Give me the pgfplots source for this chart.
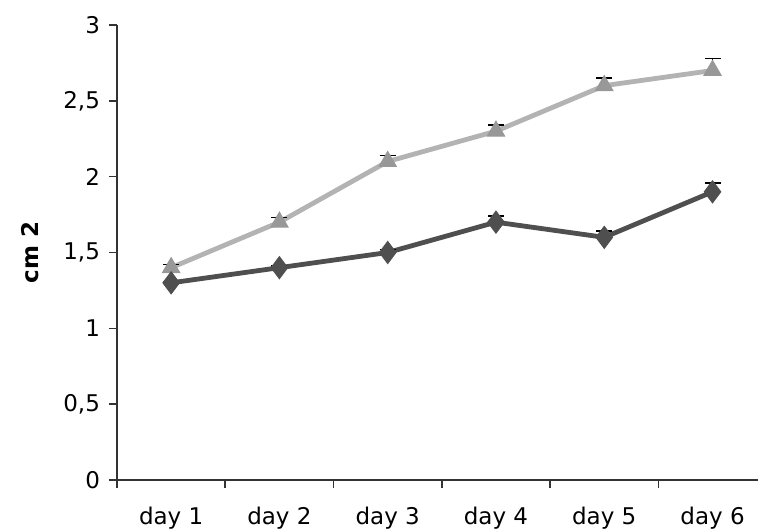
\documentclass[border=0pt]{standalone}
\usepackage{fontspec}
\setmainfont{DejaVu Sans}
\usepackage{pgfplots}
\pgfplotsset{compat=1.18}
\definecolor{lightser}{HTML}{B3B3B3}
\definecolor{darkser}{HTML}{4F4F4F}
\begin{document}
\begin{tikzpicture}[font=\fontsize{11.5}{13}\selectfont]
\path[use as bounding box] (-58.5pt,-25pt) rectangle (320.5pt,240pt);
\begin{axis}[
  scale only axis,
  width=320.5pt, height=227.5pt,
  at={(0,0)}, anchor=south west,
  xmin=-0.5, xmax=5.42,
  ymin=0, ymax=3,
  axis lines=left,
  axis line style={-, line width=0.8pt, black!80},
  ytick={0,0.5,...,3},
  /pgf/number format/use comma,
  /pgf/number format/assume math mode=true,
  yticklabel style={font=\fontsize{11.5}{13}\selectfont, xshift=-1pt},
  xtick={0,...,5},
  xticklabels={day 1,day 2,day 3,day 4,day 5,day 6},
  xticklabel style={font=\fontsize{11.5}{13}\selectfont, yshift=-6pt},
  minor xtick={-0.5,0.5,...,4.5},
  tick align=outside,
  major x tick style={draw=none},
  minor x tick style={black!80, line width=0.8pt},
  y tick style={black!80, line width=0.8pt},
  major tick length=4pt,
  minor tick length=4pt,
  ylabel={\bfseries cm 2},
  ylabel style={at={(axis description cs:-0.136,0.5)}, anchor=center},
  clip=false,
]
\addplot[lightser, line width=2.4pt, mark=triangle*, mark size=5pt,
  mark options={fill=lightser!85!black, draw=lightser!85!black, line width=0.5pt},
  error bars/.cd, y dir=plus, y explicit,
  error bar style={black, line width=0.8pt}, error mark options={rotate=90, mark size=4pt, line width=0.8pt, black}]
  table[x=x, y=y, y error=e] {
x y e
0 1.40 0.02
1 1.70 0.03
2 2.10 0.04
3 2.30 0.04
4 2.60 0.05
5 2.70 0.08
};
\addplot[darkser, line width=2.4pt, mark=diamond*, mark size=5.5pt,
  mark options={fill=darkser, draw=darkser, line width=0.5pt},
  error bars/.cd, y dir=plus, y explicit,
  error bar style={black, line width=0.8pt}, error mark options={rotate=90, mark size=4pt, line width=0.8pt, black}]
  table[x=x, y=y, y error=e] {
x y e
0 1.30 0.01
1 1.40 0.01
2 1.50 0.02
3 1.70 0.04
4 1.60 0.04
5 1.90 0.06
};
\end{axis}
\end{tikzpicture}
\end{document}
